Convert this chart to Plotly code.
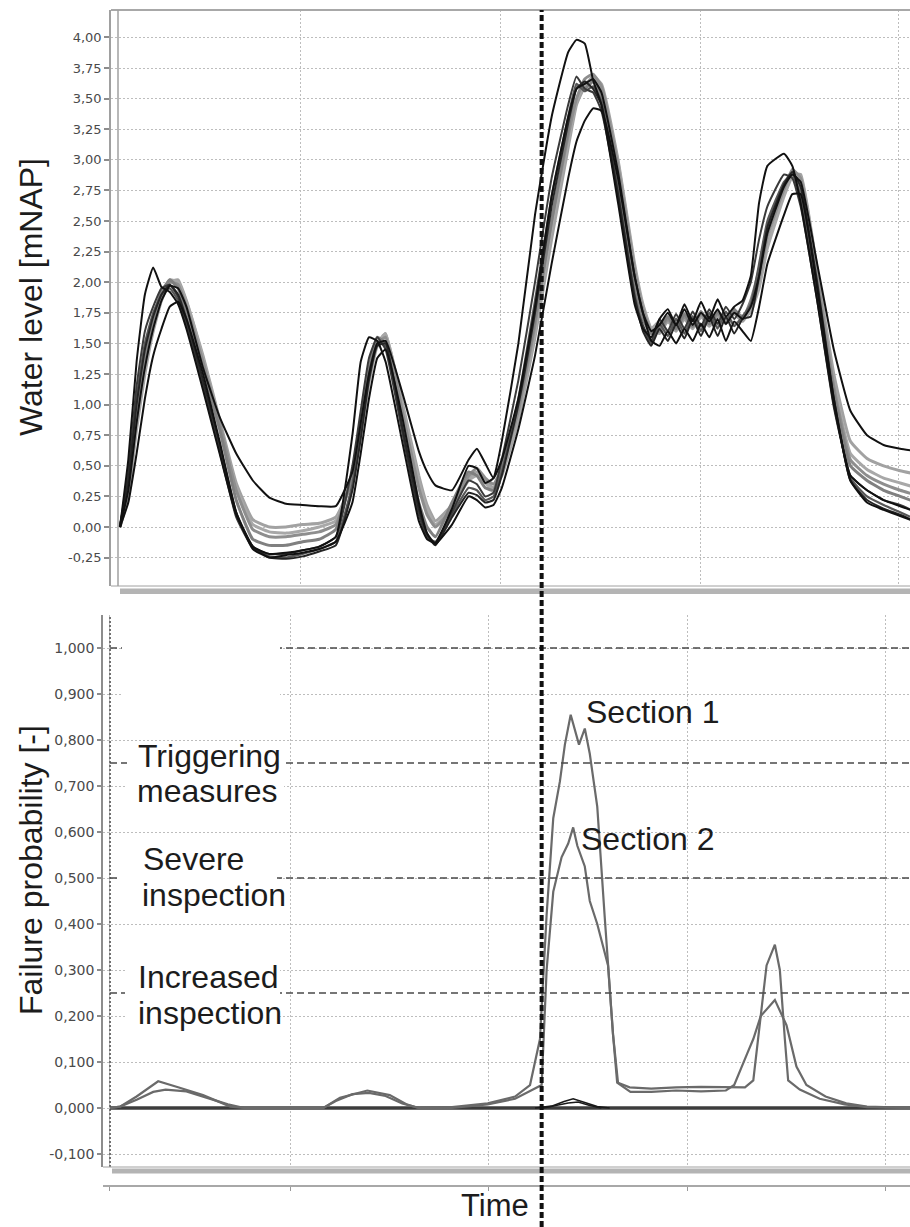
import plotly.graph_objects as go

W, H = 910, 1227

# ---------------- data: water level (top panel) ----------------
time_h = [0, 1, 2, 3, 4, 5, 6, 7, 8,
          10, 12, 14, 16, 18, 20, 22, 24, 26, 28,
          29, 30, 31, 32, 34, 36, 37, 38, 40, 42, 43, 44, 45, 46,
          48, 50, 52, 54, 55, 56, 57, 58, 60, 62, 63,
          64, 65, 66, 67, 68, 69, 70, 71, 72, 73, 74, 75, 76, 77, 78,
          80, 81, 82, 84, 86, 88, 90, 92, 94, 96]

level_run1 = [0.00, 0.55, 1.35, 1.90, 2.12, 1.96, 1.92, 1.82, 1.62,
              1.12, 0.60, 0.10, -0.16, -0.22, -0.21, -0.19, -0.16, -0.08, 0.75,
              1.35, 1.55, 1.52, 1.35, 0.70, 0.05, -0.10, -0.13, 0.15, 0.50, 0.48, 0.36, 0.40, 0.70,
              1.50, 2.55, 3.35, 3.88, 3.98, 3.95, 3.65, 3.45, 2.65, 1.82, 1.62,
              1.55, 1.70, 1.78, 1.65, 1.82, 1.68, 1.84, 1.70, 1.86, 1.72, 1.80, 1.85, 2.05, 2.65, 2.95,
              3.05, 2.95, 2.65, 1.85, 1.00, 0.42, 0.30, 0.22, 0.17, 0.12]
level_run2 = [0.00, 0.30, 0.85, 1.30, 1.62, 1.85, 1.97, 1.95, 1.80,
              1.30, 0.90, 0.60, 0.38, 0.24, 0.19, 0.18, 0.17, 0.17, 0.45,
              0.85, 1.25, 1.50, 1.52, 1.10, 0.62, 0.45, 0.34, 0.30, 0.55, 0.64, 0.52, 0.40, 0.55,
              1.05, 1.80, 2.70, 3.35, 3.58, 3.62, 3.66, 3.55, 2.90, 2.05, 1.75,
              1.60, 1.65, 1.75, 1.65, 1.78, 1.65, 1.75, 1.68, 1.78, 1.66, 1.75, 1.70, 1.80, 2.05, 2.40,
              2.78, 2.88, 2.82, 2.15, 1.45, 0.95, 0.75, 0.67, 0.64, 0.62]
level_run3 = [0.00, 0.20, 0.60, 1.05, 1.40, 1.62, 1.80, 1.84, 1.70,
              1.25, 0.70, 0.12, -0.18, -0.25, -0.23, -0.21, -0.18, -0.12, 0.20,
              0.60, 1.05, 1.38, 1.45, 0.90, 0.20, -0.05, -0.14, 0.02, 0.25, 0.22, 0.16, 0.18, 0.32,
              0.80, 1.40, 2.15, 2.85, 3.15, 3.32, 3.42, 3.40, 2.85, 2.05, 1.75,
              1.52, 1.48, 1.60, 1.50, 1.62, 1.52, 1.66, 1.55, 1.70, 1.52, 1.68, 1.60, 1.52, 1.80, 2.15,
              2.55, 2.72, 2.72, 1.95, 1.05, 0.38, 0.20, 0.14, 0.09, 0.04]
level_run4 = [0.00, 0.35, 0.95, 1.40, 1.70, 1.92, 2.02, 1.95, 1.75,
              1.30, 0.80, 0.22, -0.10, -0.15, -0.15, -0.12, -0.10, -0.02, 0.45,
              0.85, 1.30, 1.55, 1.50, 0.85, 0.20, 0.00, -0.08, 0.20, 0.45, 0.42, 0.32, 0.30, 0.50,
              1.00, 1.70, 2.50, 3.25, 3.60, 3.58, 3.64, 3.52, 2.80, 1.95, 1.70,
              1.58, 1.62, 1.72, 1.62, 1.74, 1.64, 1.76, 1.66, 1.76, 1.66, 1.78, 1.70, 1.85, 2.10, 2.45,
              2.80, 2.90, 2.75, 1.95, 1.10, 0.50, 0.38, 0.30, 0.25, 0.20]
level_run5 = [0.00, 0.45, 1.15, 1.60, 1.80, 1.95, 1.98, 1.88, 1.65,
              1.15, 0.62, 0.08, -0.17, -0.22, -0.22, -0.19, -0.16, -0.08, 0.50,
              0.95, 1.38, 1.55, 1.45, 0.78, 0.10, -0.08, -0.12, 0.12, 0.38, 0.35, 0.25, 0.28, 0.55,
              1.20, 2.00, 2.85, 3.45, 3.68, 3.58, 3.55, 3.40, 2.70, 1.85, 1.65,
              1.52, 1.70, 1.60, 1.74, 1.62, 1.76, 1.64, 1.78, 1.66, 1.80, 1.70, 1.82, 2.00, 2.35, 2.62,
              2.88, 2.85, 2.62, 1.85, 0.98, 0.42, 0.30, 0.22, 0.18, 0.12]
level_run6 = [0.00, 0.25, 0.80, 1.25, 1.60, 1.85, 2.00, 2.02, 1.85,
              1.40, 0.88, 0.36, 0.06, 0.00, 0.00, 0.02, 0.03, 0.08, 0.38,
              0.75, 1.18, 1.48, 1.58, 1.02, 0.42, 0.18, 0.05, 0.18, 0.40, 0.45, 0.38, 0.32, 0.42,
              0.88, 1.55, 2.35, 3.10, 3.45, 3.60, 3.68, 3.62, 3.00, 2.15, 1.82,
              1.62, 1.58, 1.68, 1.60, 1.70, 1.62, 1.72, 1.64, 1.72, 1.68, 1.74, 1.68, 1.78, 1.98, 2.30,
              2.72, 2.88, 2.88, 2.10, 1.25, 0.70, 0.56, 0.50, 0.46, 0.43]
level_run7 = [0.00, 0.40, 1.05, 1.50, 1.75, 1.90, 1.95, 1.85, 1.65,
              1.18, 0.65, 0.10, -0.16, -0.24, -0.25, -0.22, -0.18, -0.12, 0.35,
              0.80, 1.25, 1.50, 1.48, 0.80, 0.12, -0.08, -0.14, 0.10, 0.32, 0.30, 0.22, 0.25, 0.45,
              1.05, 1.85, 2.70, 3.35, 3.62, 3.56, 3.60, 3.48, 2.75, 1.90, 1.62,
              1.50, 1.66, 1.56, 1.70, 1.58, 1.72, 1.60, 1.75, 1.62, 1.76, 1.64, 1.72, 1.82, 2.15, 2.50,
              2.82, 2.88, 2.70, 1.90, 1.02, 0.40, 0.25, 0.18, 0.12, 0.06]
level_run8 = [0.00, 0.30, 0.90, 1.35, 1.65, 1.88, 2.00, 1.98, 1.80,
              1.35, 0.85, 0.30, -0.02, -0.08, -0.08, -0.06, -0.04, 0.02, 0.42,
              0.80, 1.22, 1.50, 1.55, 0.95, 0.32, 0.10, 0.00, 0.15, 0.42, 0.48, 0.40, 0.35, 0.48,
              0.95, 1.65, 2.50, 3.20, 3.50, 3.66, 3.70, 3.60, 2.95, 2.10, 1.78,
              1.60, 1.60, 1.70, 1.62, 1.72, 1.64, 1.74, 1.66, 1.74, 1.70, 1.76, 1.72, 1.80, 2.02, 2.38,
              2.76, 2.92, 2.85, 2.05, 1.15, 0.55, 0.42, 0.35, 0.30, 0.26]
level_run9 = [0.00, 0.38, 1.00, 1.45, 1.72, 1.90, 1.98, 1.90, 1.70,
              1.20, 0.68, 0.12, -0.16, -0.25, -0.26, -0.24, -0.20, -0.15, 0.30,
              0.72, 1.20, 1.48, 1.50, 0.82, 0.15, -0.06, -0.15, 0.08, 0.28, 0.26, 0.20, 0.22, 0.42,
              1.00, 1.75, 2.62, 3.30, 3.58, 3.64, 3.58, 3.45, 2.72, 1.88, 1.60,
              1.48, 1.62, 1.52, 1.66, 1.54, 1.70, 1.56, 1.72, 1.56, 1.72, 1.58, 1.70, 1.72, 2.05, 2.45,
              2.80, 2.90, 2.78, 2.00, 1.05, 0.38, 0.22, 0.15, 0.10, 0.04]
level_run10 = [0.00, 0.28, 0.85, 1.30, 1.62, 1.86, 2.02, 2.00, 1.84,
               1.38, 0.86, 0.32, 0.02, -0.04, -0.05, -0.03, 0.00, 0.05, 0.40,
               0.78, 1.20, 1.50, 1.58, 1.00, 0.38, 0.15, 0.02, 0.16, 0.38, 0.42, 0.36, 0.30, 0.45,
               0.92, 1.60, 2.45, 3.15, 3.48, 3.62, 3.66, 3.58, 2.98, 2.12, 1.80,
               1.62, 1.68, 1.60, 1.70, 1.62, 1.72, 1.62, 1.72, 1.64, 1.72, 1.66, 1.70, 1.76, 1.95, 2.28,
               2.70, 2.86, 2.86, 2.08, 1.18, 0.60, 0.47, 0.40, 0.36, 0.32]

# ---------------- data: failure probability (bottom panel) ----------------
section1_t = [-1.2, 0, 2, 4.6, 7, 10, 13.3, 15, 24.5, 26.5, 29.8, 32.5, 34.5, 36, 40, 44.3,
              47.6, 49.4, 50.6, 51.4, 52.2, 53, 53.6, 54.3, 55.3, 56, 56.6, 57.5, 58.4, 59.4,
              60, 61.4, 64, 67, 70, 73, 75.3, 76.3, 77.2, 77.9, 78.9, 79.5, 80.1, 80.5, 81.9,
              84.3, 87.3, 90, 95.5]
section1_p = [0.0, 0.003, 0.025, 0.058, 0.045, 0.028, 0.003, 0.0, 0.0, 0.022, 0.038, 0.028, 0.008, 0.0, 0.002, 0.010,
              0.025, 0.050, 0.150, 0.420, 0.630, 0.710, 0.790, 0.855, 0.790, 0.825, 0.770, 0.655, 0.415, 0.160,
              0.055, 0.045, 0.042, 0.045, 0.046, 0.046, 0.045, 0.060, 0.200, 0.310, 0.355, 0.300, 0.150, 0.060, 0.040,
              0.020, 0.008, 0.002, 0.0]
section2_t = [-1.2, 0, 2, 4, 5.5, 8, 10.5, 13, 15, 24.5, 26, 28, 30, 32, 34, 36, 40, 44.3,
              47.6, 50.8, 51.4, 52.2, 53.2, 54, 54.6, 55.1, 56, 56.6, 57.5, 58.8, 59.4, 59.9,
              61.5, 64, 67, 70, 73, 74, 75.6, 76.3, 77.2, 78.9, 80.3, 81.5, 82.7, 85, 87.5, 90, 95.5]
section2_p = [0.0, 0.003, 0.018, 0.035, 0.040, 0.036, 0.022, 0.008, 0.0, 0.0, 0.015, 0.030, 0.033, 0.026, 0.010, 0.0, 0.0, 0.008,
              0.020, 0.050, 0.300, 0.470, 0.545, 0.575, 0.610, 0.570, 0.525, 0.450, 0.400, 0.310, 0.160, 0.055,
              0.035, 0.035, 0.038, 0.036, 0.038, 0.050, 0.120, 0.150, 0.200, 0.235, 0.180, 0.090, 0.050, 0.025, 0.010, 0.003, 0.0]
section3_t = [50, 52, 53.5, 54.6, 56, 57.5, 59]
section3_p = [0.0, 0.004, 0.014, 0.020, 0.012, 0.003, 0.0]
section4_t = [51, 52.5, 54, 55.2, 56.5, 58]
section4_p = [0.0, 0.005, 0.011, 0.013, 0.006, 0.0]
other_sections_t = [-1.2, 95.5]
other_sections_p = [0.0, 0.0]

level_ticks = [-0.25, 0.0, 0.25, 0.5, 0.75, 1.0, 1.25, 1.5, 1.75, 2.0, 2.25, 2.5, 2.75, 3.0, 3.25, 3.5, 3.75, 4.0]
level_ticktext = ["-0,25", "0,00", "0,25", "0,50", "0,75", "1,00", "1,25", "1,50", "1,75", "2,00",
                  "2,25", "2,50", "2,75", "3,00", "3,25", "3,50", "3,75", "4,00"]
prob_ticks = [-0.1, 0.0, 0.1, 0.2, 0.3, 0.4, 0.5, 0.6, 0.7, 0.8, 0.9, 1.0]
prob_ticktext = ["-0,100", "0,000", "0,100", "0,200", "0,300", "0,400", "0,500", "0,600",
                 "0,700", "0,800", "0,900", "1,000"]
thresholds = [1.0, 0.75, 0.5, 0.25]
now_h = 50.8

# ---------------- layout geometry (pixels) ----------------
PX_T0, PX_PER_H = 120.0, 8.3
def t_of(px):
    return (px - PX_T0) / PX_PER_H
def fx(px):
    return px / W
def fy(py):
    return 1 - py / H
def lvl_of(py):
    return (527.0 - py) / 122.4
def prob_of(py):
    return (1108.0 - py) / 460.0

fig = go.Figure()

runs = [
    (level_run6, "#a2a2a2", 3.0), (level_run10, "#a8a8a8", 3.0), (level_run8, "#8e8e8e", 3.0),
    (level_run4, "#808080", 3.0), (level_run7, "#575757", 2.2), (level_run5, "#3a3a3a", 2.0),
    (level_run9, "#252525", 2.0), (level_run3, "#111111", 2.0), (level_run2, "#111111", 2.0),
    (level_run1, "#111111", 2.0),
]
for ys, col, w in runs:
    fig.add_trace(go.Scatter(x=time_h, y=ys, mode="lines", xaxis="x", yaxis="y",
                             line=dict(color=col, width=w, shape="spline", smoothing=0.4),
                             hoverinfo="skip", showlegend=False))

fig.add_trace(go.Scatter(x=other_sections_t, y=other_sections_p, mode="lines", xaxis="x2", yaxis="y2",
                         line=dict(color="#3c3c3c", width=3.5), hoverinfo="skip", showlegend=False))
for tt, pp in [(section3_t, section3_p), (section4_t, section4_p)]:
    fig.add_trace(go.Scatter(x=tt, y=pp, mode="lines", xaxis="x2", yaxis="y2",
                             line=dict(color="#1a1a1a", width=1.6), hoverinfo="skip", showlegend=False))
for tt, pp in [(section2_t, section2_p), (section1_t, section1_p)]:
    fig.add_trace(go.Scatter(x=tt, y=pp, mode="lines", xaxis="x2", yaxis="y2",
                             line=dict(color="#6a6a6a", width=2.2), hoverinfo="skip", showlegend=False))

grid = dict(showgrid=True, gridcolor="#bdbdbd", gridwidth=1, griddash="2px,2px", zeroline=False)

fig.update_layout(
    width=W, height=H, margin=dict(l=0, r=0, t=0, b=0),
    paper_bgcolor="white", plot_bgcolor="white", showlegend=False,
    xaxis=dict(domain=[fx(111), 1], range=[t_of(111), t_of(910)], anchor="y",
               tickvals=[t_of(p) for p in (300, 500, 700, 898)],
               showticklabels=False, ticks="", showline=False, **grid),
    yaxis=dict(domain=[fy(586), fy(10)], range=[lvl_of(586), lvl_of(10)], anchor="x",
               tickvals=level_ticks, ticktext=level_ticktext,
               ticks="outside", ticklen=5, tickcolor="#8c8c8c", tickwidth=1.5,
               showline=True, linecolor="#a0a0a0", linewidth=1.5,
               tickfont=dict(family="DejaVu Sans", size=13, color="#4a4a4a"), **grid),
    xaxis2=dict(domain=[fx(103), 1], range=[t_of(103), t_of(910)], anchor="free", position=fy(1186),
                tickvals=[t_of(p) for p in (109, 290, 488, 687, 885)],
                showticklabels=False, ticks="outside", ticklen=4, tickcolor="#999999",
                showline=True, linecolor="#a8a8a8", linewidth=1.5, **grid),
    yaxis2=dict(domain=[fy(1167), fy(615)], range=[prob_of(1167), prob_of(615)], anchor="x2",
                tickvals=prob_ticks, ticktext=prob_ticktext,
                ticks="outside", ticklen=4, tickcolor="#8c8c8c", tickwidth=1.5,
                showline=True, linecolor="#8c8c8c", linewidth=1.5,
                tickfont=dict(family="DejaVu Sans", size=14, color="#4a4a4a"), **grid),
)

shapes = []
# top panel frame
shapes.append(dict(type="line", xref="paper", yref="paper", x0=fx(111), x1=1, y0=fy(10), y1=fy(10),
                   line=dict(color="#a8a8a8", width=2)))
shapes.append(dict(type="line", xref="paper", yref="paper", x0=fx(118), x1=fx(118), y0=fy(586), y1=fy(10),
                   line=dict(color="#a0a0a0", width=1.5)))
shapes.append(dict(type="line", xref="paper", yref="paper", x0=fx(111), x1=1, y0=fy(586), y1=fy(586),
                   line=dict(color="#a0a0a0", width=1)))
shapes.append(dict(type="rect", xref="paper", yref="paper", x0=fx(120), x1=1, y0=fy(594), y1=fy(588.5),
                   fillcolor="#b4b4b4", line=dict(width=0)))
# bottom panel frame
shapes.append(dict(type="line", xref="paper", yref="paper", x0=fx(110), x1=fx(110), y0=fy(1167), y1=fy(615),
                   line=dict(color="#444444", width=1.5, dash="2px,2px")))
shapes.append(dict(type="line", xref="paper", yref="paper", x0=fx(103), x1=1, y0=fy(1167), y1=fy(1167),
                   line=dict(color="#a0a0a0", width=1)))
shapes.append(dict(type="rect", xref="paper", yref="paper", x0=fx(112), x1=1, y0=fy(1173.5), y1=fy(1168.5),
                   fillcolor="#b4b4b4", line=dict(width=0)))
# threshold lines
for thr in thresholds:
    shapes.append(dict(type="line", xref="paper", yref="y2", x0=fx(110), x1=1, y0=thr, y1=thr,
                       line=dict(color="#4a4a4a", width=1.3, dash="7px,4px")))
# white label backgrounds
for (x0, x1, y0, y1) in [(122, 280, 626, 706), (127, 284, 745, 808), (117, 277, 848, 914), (125, 280, 961, 1030)]:
    shapes.append(dict(type="rect", xref="paper", yref="paper", x0=fx(x0), x1=fx(x1), y0=fy(y1), y1=fy(y0),
                       fillcolor="white", line=dict(width=0)))
# current time line
shapes.append(dict(type="line", xref="x", yref="paper", x0=now_h, x1=now_h, y0=0, y1=fy(10),
                   line=dict(color="#111111", width=4, dash="6px,3px")))
fig.update_layout(shapes=shapes)

font_lbl = "Liberation Sans, Arial, sans-serif"
ann = []
def label(text, xl, yc, size=32, anchor="left", angle=0):
    ann.append(dict(text=text, xref="paper", yref="paper", x=fx(xl), y=fy(yc), xanchor=anchor,
                    yanchor="middle", showarrow=False, textangle=angle,
                    font=dict(family=font_lbl, size=size, color="#1c1c1c")))

label("Water level [mNAP]", 31, 297, anchor="center", angle=-90)
label("Failure probability [-]", 31, 870, anchor="center", angle=-90)
label("Triggering", 136, 756)
label("measures", 135, 791)
label("Severe", 141, 859)
label("inspection", 140, 895)
label("Increased", 136, 977)
label("inspection", 136, 1013)
label("Section 1", 584, 712)
label("Section 2", 579, 839)
label("Time", 459, 1205, size=31)
fig.update_layout(annotations=ann)

fig.write_html("out.html")
